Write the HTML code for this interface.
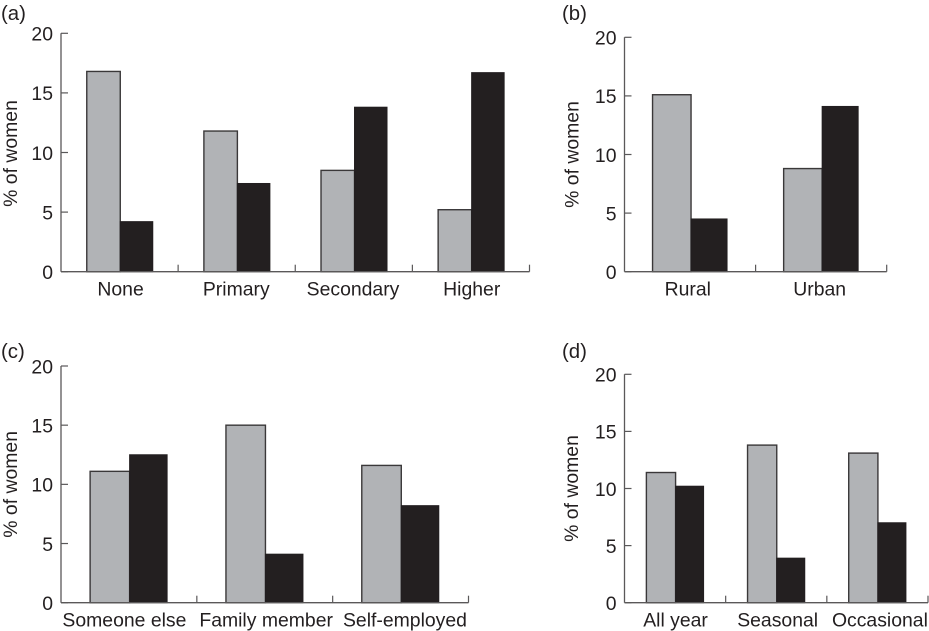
<!DOCTYPE html>
<html lang="en">
<head>
<meta charset="utf-8">
<title>Percentage of women by category</title>
<style>
  html, body { margin: 0; padding: 0; background: #fff; }
  svg { display: block; }
  text { font-family: "Liberation Sans", Arial, sans-serif; font-size: 19.4px; fill: #231f20; }
  text.panel-letter { font-size: 20.4px; }
</style>
</head>
<body>
<svg id="chart" width="929" height="631" viewBox="0 0 929 631" xmlns="http://www.w3.org/2000/svg"></svg>
<script>
const tickLabels = [0, 5, 10, 15, 20];
const yAxisTitle = '% of women';

const categoriesA = ['None', 'Primary', 'Secondary', 'Higher'];
const greyA = [16.8, 11.8, 8.5, 5.2];
const blackA = [4.2, 7.4, 13.8, 16.7];

const categoriesB = ['Rural', 'Urban'];
const greyB = [15.1, 8.8];
const blackB = [4.5, 14.1];

const categoriesC = ['Someone else', 'Family member', 'Self-employed'];
const greyC = [11.1, 15.0, 11.6];
const blackC = [12.5, 4.1, 8.2];

const categoriesD = ['All year', 'Seasonal', 'Occasional'];
const greyD = [11.4, 13.8, 13.1];
const blackD = [10.2, 3.9, 7.0];

const svg = document.getElementById('chart');
const NS = 'http://www.w3.org/2000/svg';

function make(tag, attrs, parent, content) {
  const el = document.createElementNS(NS, tag);
  for (const k in attrs) el.setAttribute(k, attrs[k]);
  if (content !== undefined) el.textContent = content;
  parent.appendChild(el);
  return el;
}

function drawPanel(p, categories, grey, black) {
  const g = make('g', {}, svg);
  
  

  const yScale = v => p.y0 + (p.y20 - p.y0) * v / 20;
  const catWidth = (p.xEnd - p.x0) / categories.length;
  const catCentre = i => p.x0 + catWidth * (i + 0.5);
  const axisColour = '#5a5859';

  const letter = make('text', { x: p.labelX, y: p.labelY, class: 'panel-letter' }, g, '(' + p.id + ')');
  
  

  const title = make('text', {
    x: 0, y: 0, 'text-anchor': 'middle',
    transform: 'translate(' + p.titleX + ',' + ((p.y0 + p.y20) / 2 + p.titleDy) + ') rotate(-90)'
  }, g, yAxisTitle);
  
  

  categories.forEach((c, i) => {
    const cx = catCentre(i) + p.barDx;
    const gy = yScale(grey[i]);
    const by = yScale(black[i]);

    const gb = make('rect', {
      x: cx - p.greyW + 0.5, y: gy, width: p.greyW - 0.5, height: p.y0 - gy,
      fill: '#b1b3b6', stroke: '#3a3839', 'stroke-width': 1.4
    }, g);
    
    

    const bb = make('rect', {
      x: cx, y: by, width: p.blackW - 0.5, height: p.y0 - by,
      fill: '#231f20', stroke: '#231f20', 'stroke-width': 1
    }, g);
    
    

    const lab = make('text', { x: catCentre(i) + p.labelDx[i], y: p.y0 + 24, 'text-anchor': 'middle' }, g, c);
    
    

    const xt = make('line', {
      x1: p.x0 + catWidth * (i + 1), x2: p.x0 + catWidth * (i + 1),
      y1: p.y0, y2: p.y0 - 7, stroke: axisColour, 'stroke-width': 1.2
    }, g);
    
    
  });

  const yAxis = make('line', { x1: p.x0, x2: p.x0, y1: p.y20, y2: p.y0, stroke: axisColour, 'stroke-width': 1.3 }, g);
  
  

  const xAxis = make('line', { x1: p.x0, x2: p.xEnd, y1: p.y0, y2: p.y0, stroke: axisColour, 'stroke-width': 1.3 }, g);
  
  

  tickLabels.forEach(t => {
    const y = yScale(t);
    const tick = make('line', { x1: p.x0, x2: p.x0 + 7, y1: y, y2: y, stroke: axisColour, 'stroke-width': 1.2 }, g);
    
    

    const lab = make('text', { x: p.x0 - 8, y: y + 7.3, 'text-anchor': 'end' }, g, String(t));
    
    
  });
}

drawPanel({ id: 'a', x0: 61, xEnd: 529.5, y0: 271.7, y20: 33.3, barDx: 0.7, greyW: 34, blackW: 33,
  labelDx: [1, -0.4, -0.8, 0.8], labelX: 1, labelY: 20, titleX: 17, titleDy: 1 },
  categoriesA, greyA, blackA);
drawPanel({ id: 'b', x0: 624.5, xEnd: 886.7, y0: 271.7, y20: 37.3, barDx: 1, greyW: 39, blackW: 36.5,
  labelDx: [-2.3, -1.5], labelX: 562, labelY: 20, titleX: 578.5, titleDy: 0 },
  categoriesB, greyB, blackB);
drawPanel({ id: 'c', x0: 61, xEnd: 468.5, y0: 602.7, y20: 366, barDx: 0.7, greyW: 40, blackW: 38,
  labelDx: [-4.5, 1.4, 4.4], labelX: 1, labelY: 358, titleX: 17, titleDy: 0 },
  categoriesC, greyC, blackC);
drawPanel({ id: 'd', x0: 624.5, xEnd: 928, y0: 602.7, y20: 374.3, barDx: 0.5, greyW: 29.7, blackW: 28.5,
  labelDx: [0.5, 1.4, 2.5], labelX: 562, labelY: 358, titleX: 578, titleDy: 0 },
  categoriesD, greyD, blackD);
</script>
</body>
</html>
